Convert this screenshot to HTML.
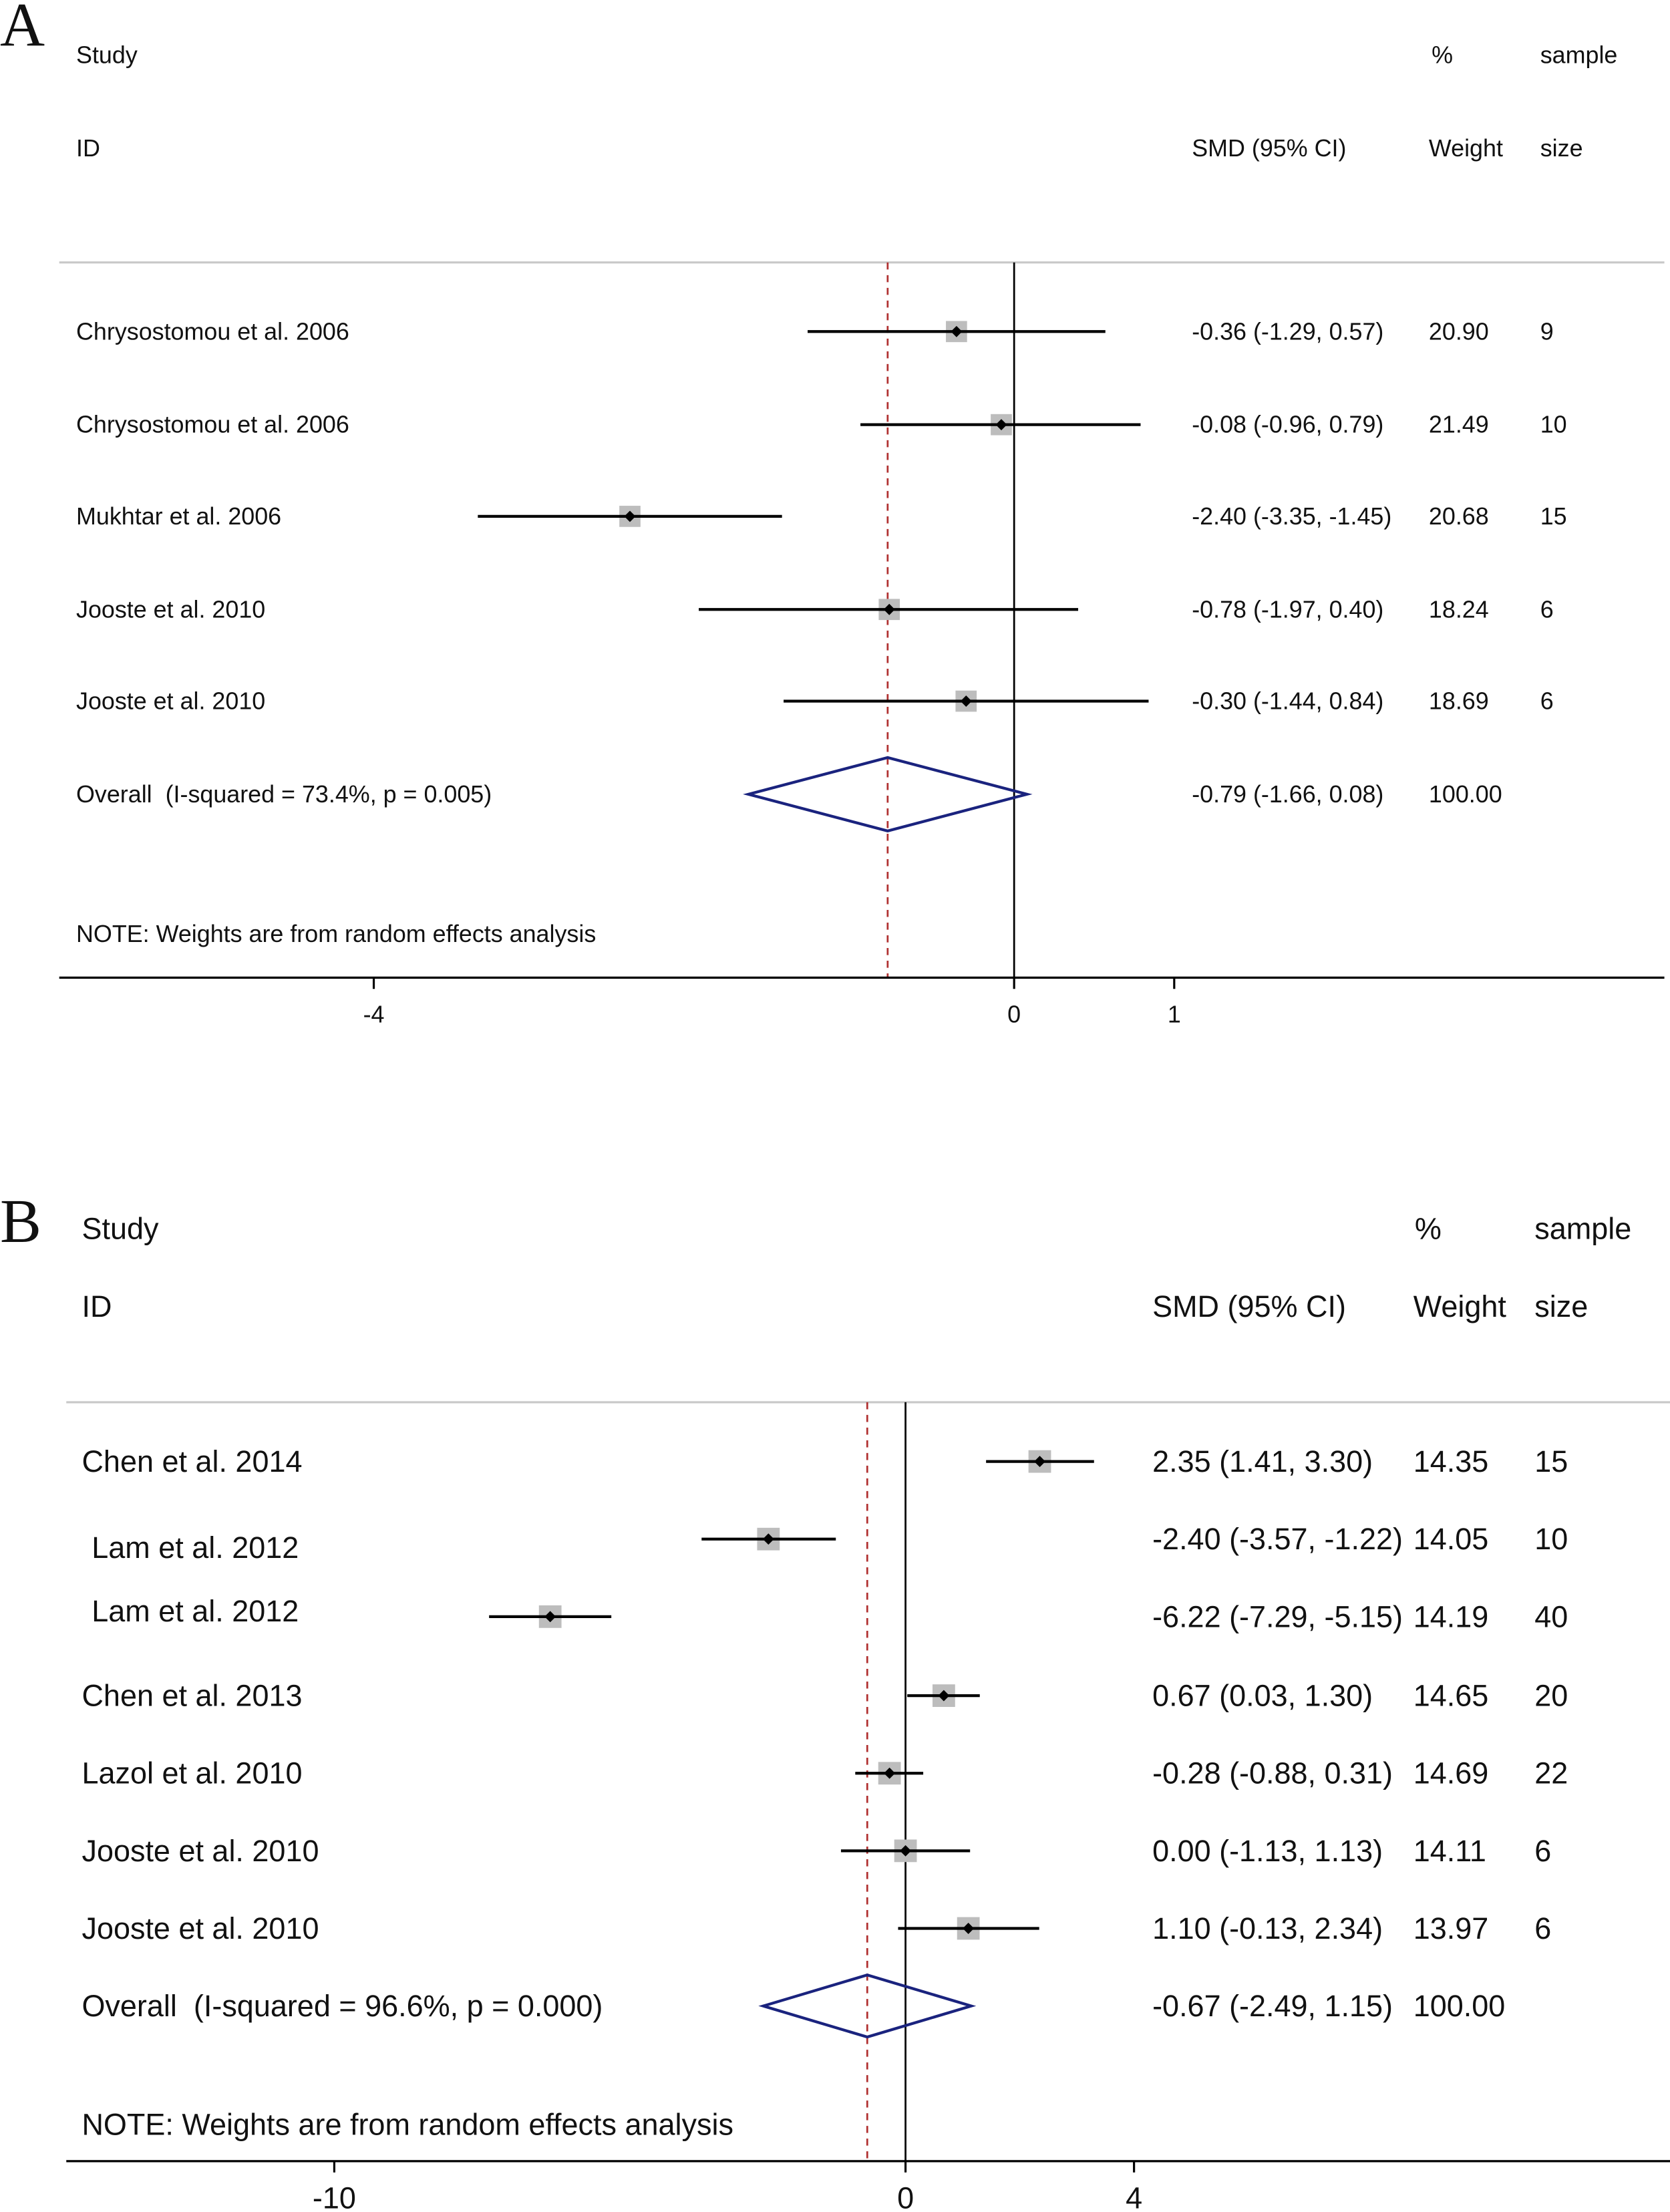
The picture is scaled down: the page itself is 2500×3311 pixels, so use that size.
<!DOCTYPE html>
<html><head><meta charset="utf-8"><style>
html,body{margin:0;padding:0;background:#fff}
svg{display:block}
text{font-family:"Liberation Sans",Arial,sans-serif;fill:#111;dominant-baseline:central;white-space:pre}
</style></head><body>
<svg id="chart" width="2500" height="3311" viewBox="0 0 1184 1568" xmlns="http://www.w3.org/2000/svg" xml:space="preserve"></svg>
<script>
// Panel A data
const aStudies = ["Chrysostomou et al. 2006","Chrysostomou et al. 2006","Mukhtar et al. 2006","Jooste et al. 2010","Jooste et al. 2010"];
const aEst = [-0.36,-0.08,-2.40,-0.78,-0.30];
const aLo = [-1.29,-0.96,-3.35,-1.97,-1.44];
const aHi = [0.57,0.79,-1.45,0.40,0.84];
const aWeight = ["20.90","21.49","20.68","18.24","18.69"];
const aSample = ["9","10","15","6","6"];
const aOverall = [-0.79,-1.66,0.08];
const aOverallLabel = "Overall  (I-squared = 73.4%, p = 0.005)";
const aTicks = [-4,0,1];
// Panel B data
const bStudies = ["Chen et al. 2014","Lam et al. 2012","Lam et al. 2012","Chen et al. 2013","Lazol et al. 2010","Jooste et al. 2010","Jooste et al. 2010"];
const bEst = [2.35,-2.40,-6.22,0.67,-0.28,0.00,1.10];
const bLo = [1.41,-3.57,-7.29,0.03,-0.88,-1.13,-0.13];
const bHi = [3.30,-1.22,-5.15,1.30,0.31,1.13,2.34];
const bWeight = ["14.35","14.05","14.19","14.65","14.69","14.11","13.97"];
const bSample = ["15","10","40","20","22","6","6"];
const bOverall = [-0.67,-2.49,1.15];
const bOverallLabel = "Overall  (I-squared = 96.6%, p = 0.000)";
const bTicks = [-10,0,4];

const svg = document.getElementById('chart');
const NS = 'http://www.w3.org/2000/svg';
function el(tag, attrs, parent){const e=document.createElementNS(NS,tag);for(const k in attrs)e.setAttribute(k,attrs[k]);(parent||svg).appendChild(e);return e;}
function txt(x,y,s,size,parent,anchor,family){const t=el('text',{x:x,y:y,'font-size':size},parent);if(anchor)t.setAttribute('text-anchor',anchor);if(family)t.setAttribute('style','font-family:'+family);t.textContent=s;return t;}
const fmt=v=>v.toFixed(2);

function panel(cfg){
  const g = el('g',{});
  
  
  const X = v => cfg.x0 + v*cfg.scale;
  const letter = txt(cfg.letterX, cfg.letterY, cfg.letter, 44, g, null, '"Liberation Serif",serif');
  
  
  const fs = cfg.fs;
  [["Study",cfg.studyX,cfg.h1],["ID",cfg.studyX,cfg.h2],["%",cfg.pctX,cfg.h1],["sample",cfg.sX,cfg.h1],["SMD (95% CI)",cfg.smdX,cfg.h2],["Weight",cfg.wX,cfg.h2],["size",cfg.sX,cfg.h2]].forEach(h=>{
    const t=txt(h[1],h[2],h[0],fs,g);
    
    
  });
  const top=el('line',{x1:cfg.left,x2:cfg.right,y1:cfg.topY,y2:cfg.topY,stroke:'#c8c8c8','stroke-width':1.5},g);
  
  
  const zl=el('line',{x1:X(0),x2:X(0),y1:cfg.topY,y2:cfg.axisY,stroke:'#000','stroke-width':1.3},g);
  
  
  const dl=el('line',{x1:X(cfg.overall[0]),x2:X(cfg.overall[0]),y1:cfg.topY,y2:cfg.axisY,stroke:'#b03030','stroke-width':1.3,'stroke-dasharray':'5,4'},g);
  
  
  cfg.studies.forEach((s,i)=>{
    const y=cfg.rows[i];
    const lab=txt(cfg.labelX[i],cfg.labelY[i],s,fs,g);
    
    
    const box=el('rect',{x:X(cfg.est[i])-cfg.box/2,y:y-cfg.box/2,width:cfg.box,height:cfg.box,fill:'#bdbdbd'},g);
    
    
    const ci=el('line',{x1:X(cfg.lo[i]),x2:X(cfg.hi[i]),y1:y,y2:y,stroke:'#000','stroke-width':2},g);
    
    
    const d=4; const cx=X(cfg.est[i]);
    const pt=el('polygon',{points:`${cx-d},${y} ${cx},${y-d} ${cx+d},${y} ${cx},${y+d}`,fill:'#000'},g);
    
    
    const smd=txt(cfg.smdX,y,`${fmt(cfg.est[i])} (${fmt(cfg.lo[i])}, ${fmt(cfg.hi[i])})`,fs,g);
    
    
    const w=txt(cfg.wX,y,cfg.weight[i],fs,g);
    
    
    const n=txt(cfg.sX,y,cfg.sample[i],fs,g);
    
    
  });
  const oy=cfg.overallY, o=cfg.overall;
  const ol=txt(cfg.studyX,oy,cfg.overallLabel,fs,g);
  
  
  const dm=el('polygon',{points:`${X(o[1])},${oy} ${X(o[0])},${oy-cfg.dh} ${X(o[2])},${oy} ${X(o[0])},${oy+cfg.dh}`,fill:'none',stroke:'#1a237e','stroke-width':2},g);
  
  
  const os=txt(cfg.smdX,oy,`${fmt(o[0])} (${fmt(o[1])}, ${fmt(o[2])})`,fs,g);
  
  
  const ow=txt(cfg.wX,oy,"100.00",fs,g);
  
  
  const note=txt(cfg.studyX,cfg.noteY,"NOTE: Weights are from random effects analysis",fs,g);
  
  
  const ax=el('line',{x1:cfg.left,x2:cfg.right,y1:cfg.axisY,y2:cfg.axisY,stroke:'#000','stroke-width':1.5},g);
  
  
  cfg.ticks.forEach(t=>{
    const tk=el('line',{x1:X(t),x2:X(t),y1:cfg.axisY,y2:cfg.axisY+8,stroke:'#000','stroke-width':1.5},g);
    
    
    const tl=txt(X(t),cfg.axisY+cfg.tickDy,String(t),fs,g,'middle');
    
    
  });
}

panel({name:'panel-a',letter:'A',letterX:0,letterY:18,x0:719,scale:113.5,left:42,right:1180,topY:186,axisY:693,tickDy:26,
  fs:17,studyX:54,smdX:845,wX:1013,pctX:1015,sX:1092,h1:39,h2:105,
  studies:aStudies,est:aEst,lo:aLo,hi:aHi,weight:aWeight,sample:aSample,
  rows:[235,301,366,432,497],labelX:[54,54,54,54,54],labelY:[235,301,366,432,497],
  overall:aOverall,overallLabel:aOverallLabel,overallY:563,dh:26,noteY:662,ticks:aTicks,box:15});

panel({name:'panel-b',letter:'B',letterX:0,letterY:866,x0:642,scale:40.5,left:47,right:1184,topY:994,axisY:1532,tickDy:26,
  fs:21.3,studyX:58,smdX:817,wX:1002,pctX:1003,sX:1088,h1:871,h2:926,
  studies:bStudies,est:bEst,lo:bLo,hi:bHi,weight:bWeight,sample:bSample,
  rows:[1036,1091,1146,1202,1257,1312,1367],labelX:[58,65,65,58,58,58,58],labelY:[1036,1097,1142,1202,1257,1312,1367],
  overall:bOverall,overallLabel:bOverallLabel,overallY:1422,dh:22,noteY:1506,ticks:bTicks,box:16});
</script>
</body></html>
